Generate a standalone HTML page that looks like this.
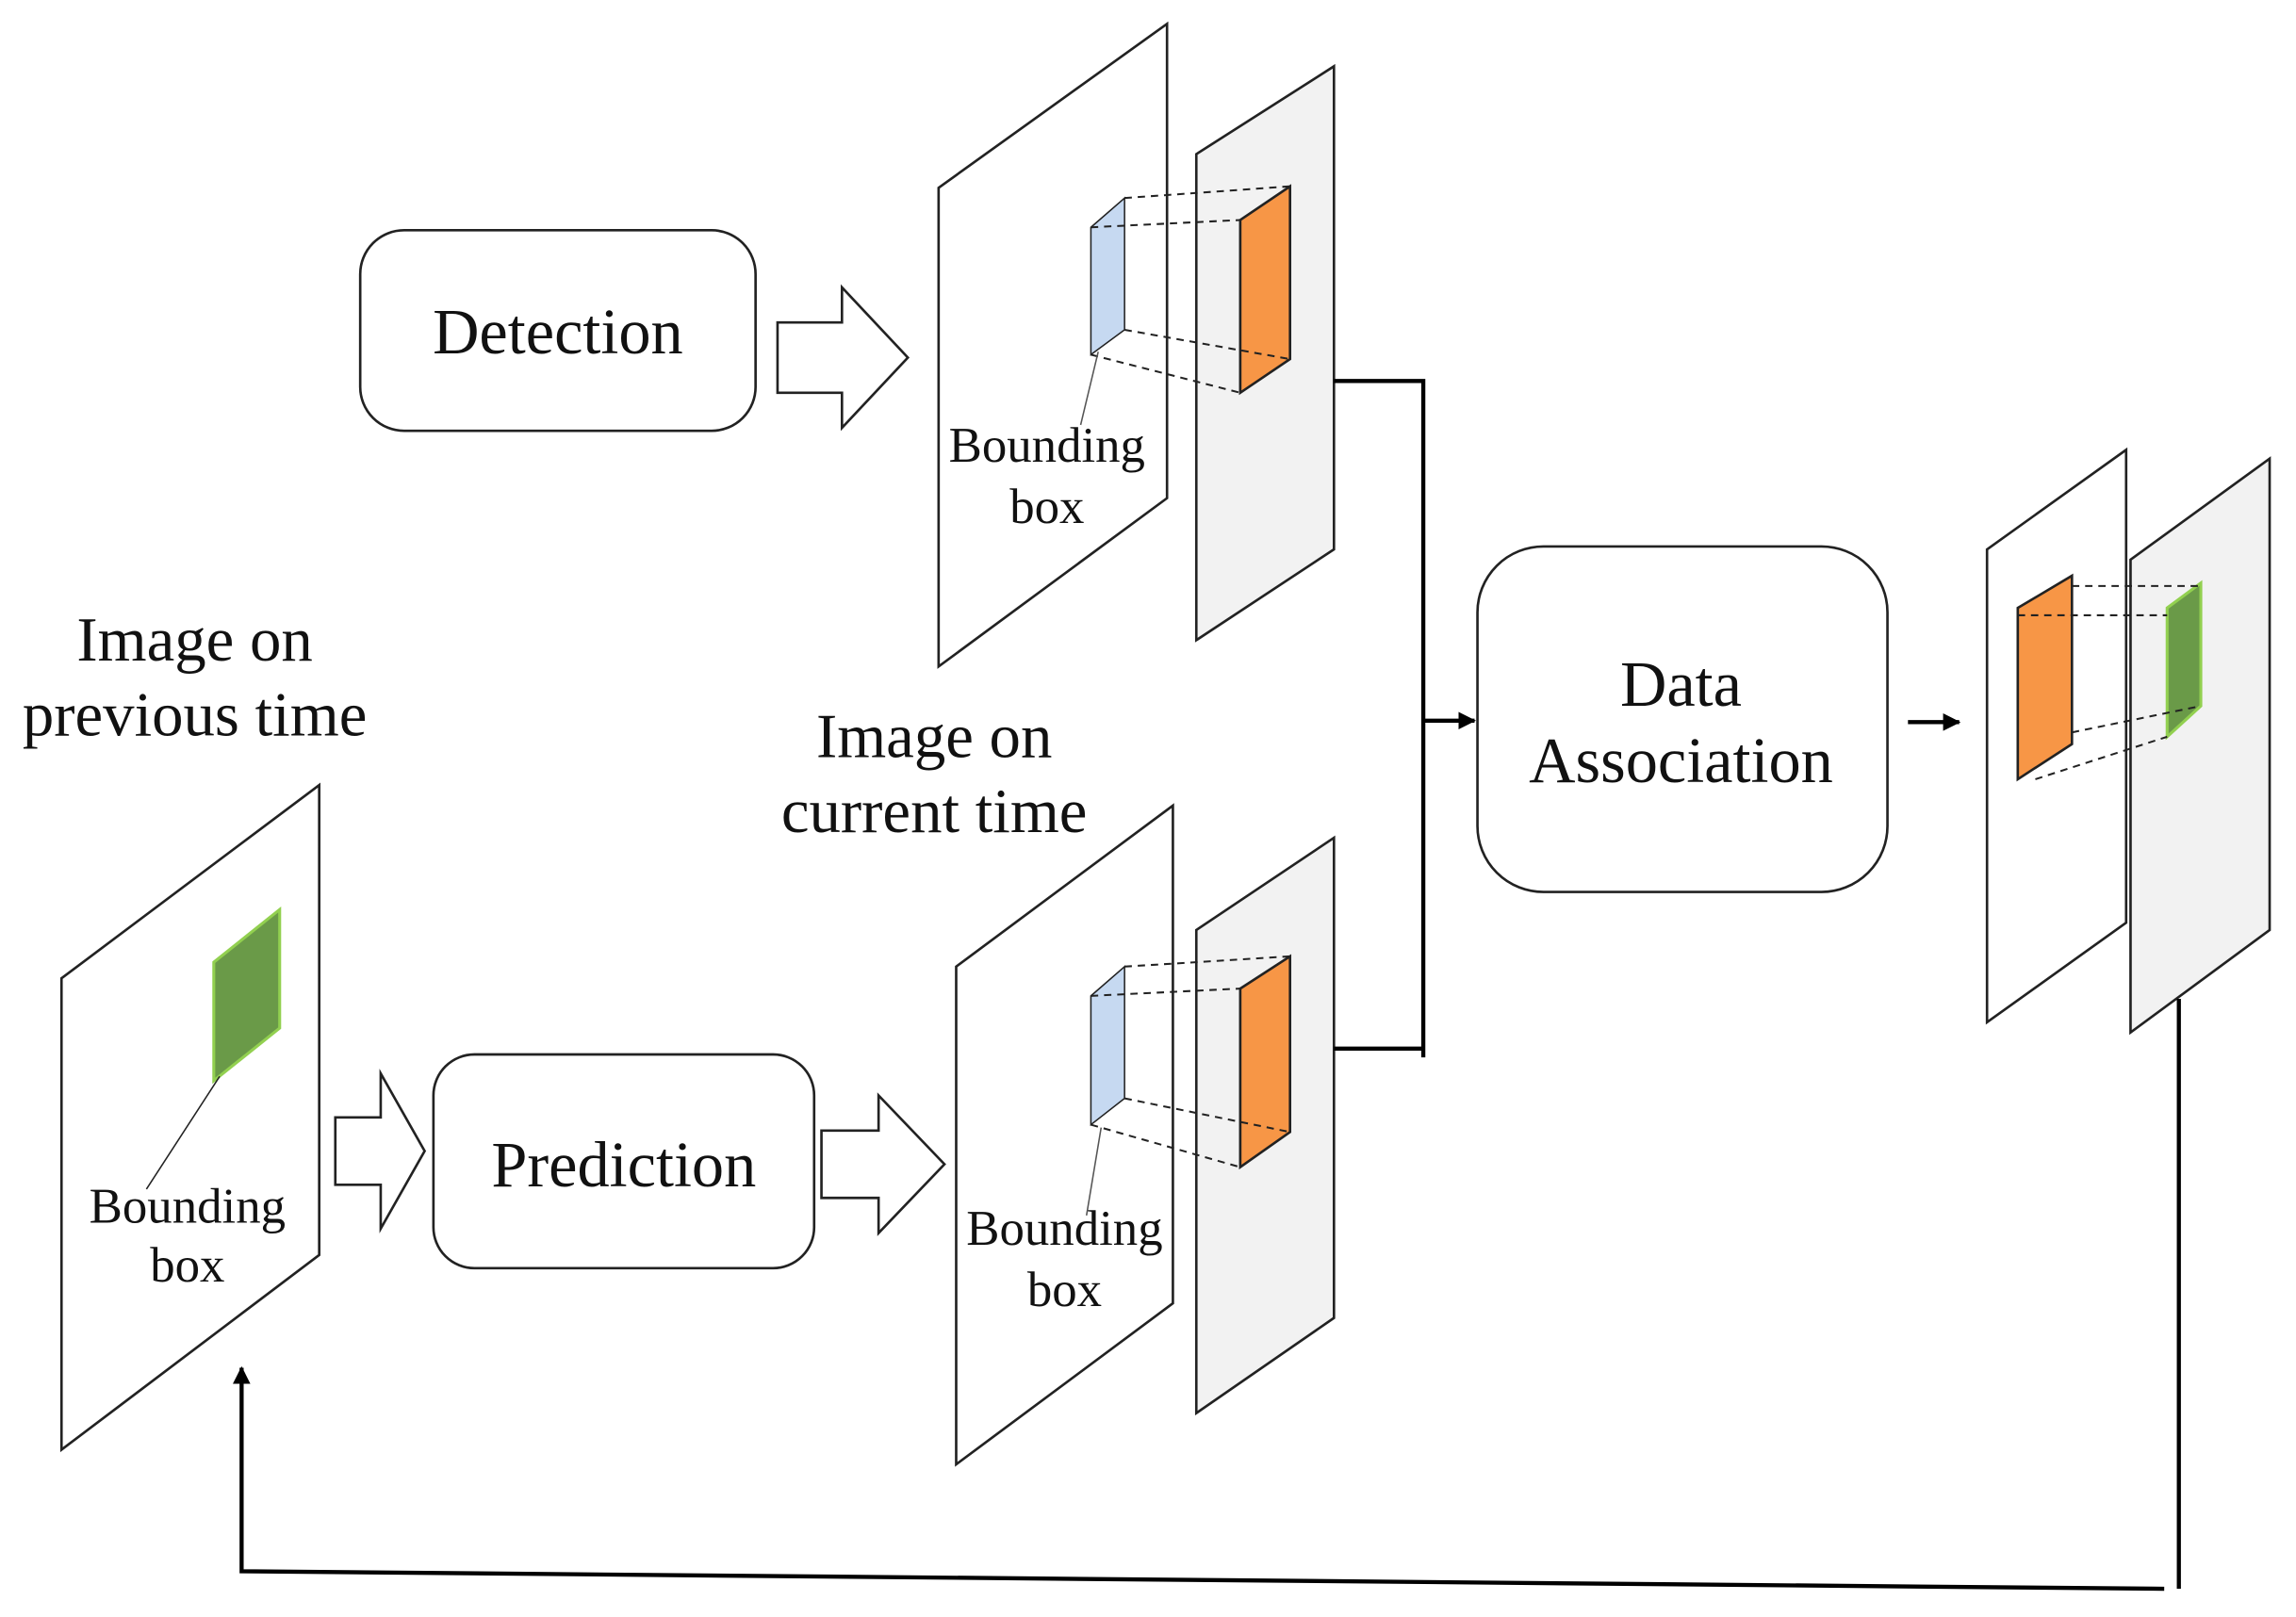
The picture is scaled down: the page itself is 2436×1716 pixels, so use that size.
<!DOCTYPE html>
<html><head><meta charset="utf-8"><style>html,body{margin:0;padding:0;background:#fff}svg{display:block}</style></head>
<body>
<svg width="2436" height="1716" viewBox="0 0 1568 1104" xmlns="http://www.w3.org/2000/svg" font-family="'Liberation Serif', serif">
<defs><marker id="ah" markerWidth="14" markerHeight="14" refX="11" refY="6" orient="auto" markerUnits="userSpaceOnUse"><path d="M0,0 L12,6 L0,12 z" fill="#000"/></marker></defs>
<g stroke="#222" stroke-width="1.7" fill="#fff">
<rect x="246" y="157" width="270" height="137" rx="30"/>
<path d="M531,220 L575,220 L575,196 L620,244 L575,292 L575,268 L531,268 Z"/>
<path d="M641,128 L797,16 L797,340 L641,455 Z"/>
<path d="M817,105 L911,45 L911,375 L817,437 Z" fill="#f2f2f2"/>
<path d="M745,155 L768,135 L768,225 L745,242 Z" fill="#c6d9f1" stroke-width="1"/>
<path d="M847,150 L881,127 L881,245 L847,268 Z" fill="#f79646"/>
<rect x="1009" y="373" width="280" height="236" rx="45"/>
<path d="M1357,375 L1452,307 L1452,630 L1357,698 Z"/>
<path d="M1455,382 L1550,313 L1550,635 L1455,705 Z" fill="#f2f2f2"/>
<path d="M1378,415 L1415,393 L1415,508 L1378,532 Z" fill="#f79646"/>
<path d="M1480,415 L1503,398 L1503,482 L1480,503 Z" fill="#6a9a48" stroke="#92d050" stroke-width="2"/>
<path d="M42,668 L218,536 L218,857 L42,990 Z"/>
<path d="M146,657 L191,621 L191,702 L146,738 Z" fill="#6a9a48" stroke="#92d050" stroke-width="2"/>
<path d="M229,763 L260,763 L260,733 L290,786 L260,839 L260,809 L229,809 Z"/>
<rect x="296" y="720" width="260" height="146" rx="28"/>
<path d="M561,772 L600,772 L600,748 L645,795 L600,842 L600,818 L561,818 Z"/>
<path d="M653,660 L801,550 L801,890 L653,1000 Z"/>
<path d="M817,635 L911,572 L911,900 L817,965 Z" fill="#f2f2f2"/>
<path d="M745,680 L768,660 L768,750 L745,768 Z" fill="#c6d9f1" stroke-width="1"/>
<path d="M847,675 L881,653 L881,773 L847,797 Z" fill="#f79646"/>
</g>
<g stroke="#222" stroke-width="1.3" stroke-dasharray="5,4" fill="none">
<path d="M768,135 L881,127 M745,155 L847,150 M768,225 L881,245 M745,242 L847,268"/>
<path d="M768,660 L881,653 M745,680 L847,675 M768,750 L881,773 M745,768 L847,797"/>
<path d="M1415,400 L1503,400 M1378,420 L1480,420 M1415,500 L1503,482 M1390,532 L1480,503"/>
</g>
<g stroke="#555" stroke-width="1" fill="none">
<path d="M750,240 L738,290"/><path d="M752,770 L742,830"/>
<path d="M150,735 L100,812" stroke="#222"/>
</g>
<g stroke="#000" stroke-width="2.8" fill="none">
<path d="M911,260 L972,260 L972,722 M911,716 L972,716"/>
<path d="M972,492 L1007,492" marker-end="url(#ah)"/>
<path d="M1303,493 L1338,493" marker-end="url(#ah)"/>
<path d="M1488,682 L1488,1085 M1478,1085 L165,1073 L165,934" marker-end="url(#ah)"/>
</g>
<g fill="#111" text-anchor="middle">
<text x="381" y="241" font-size="44">Detection</text>
<text x="1148" y="482" font-size="44">Data</text>
<text x="1148" y="534" font-size="44">Association</text>
<text x="426" y="810" font-size="44">Prediction</text>
<text x="133" y="451" font-size="43">Image on</text>
<text x="133" y="502" font-size="43">previous time</text>
<text x="638" y="517" font-size="43">Image on</text>
<text x="638" y="568" font-size="43">current time</text>
<text x="715" y="315" font-size="34">Bounding</text>
<text x="715" y="357" font-size="34">box</text>
<text x="727" y="850" font-size="34">Bounding</text>
<text x="727" y="892" font-size="34">box</text>
<text x="128" y="835" font-size="34">Bounding</text>
<text x="128" y="875" font-size="34">box</text>
</g>
</svg>
</body></html>
